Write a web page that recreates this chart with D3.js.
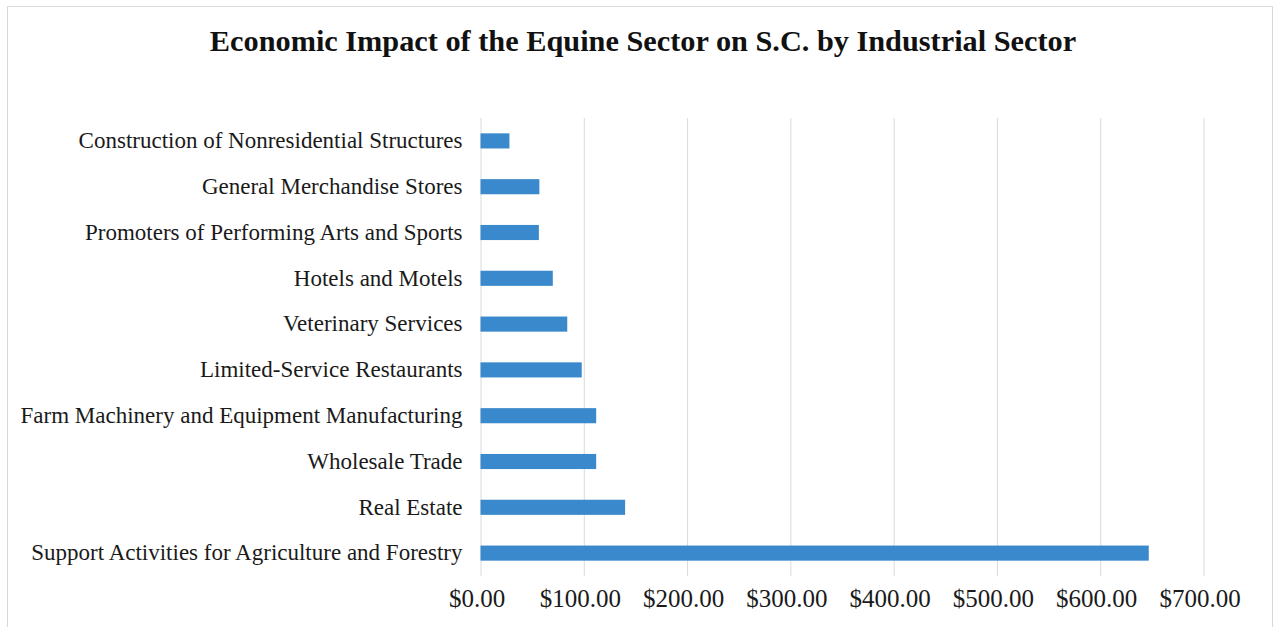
<!DOCTYPE html>
<html><head><meta charset="utf-8">
<script src="https://cdn.jsdelivr.net/npm/d3@7"></script>
<style>
html,body{margin:0;padding:0;background:#fff;}
svg{display:block;}
</style></head>
<body>
<svg id="chart" width="1277" height="627"></svg>
<script>
const title = "Economic Impact of the Equine Sector on S.C. by Industrial Sector";
const categories = [
  "Construction of Nonresidential Structures",
  "General Merchandise Stores",
  "Promoters of Performing Arts and Sports",
  "Hotels and Motels",
  "Veterinary Services",
  "Limited-Service Restaurants",
  "Farm Machinery and Equipment Manufacturing",
  "Wholesale Trade",
  "Real Estate",
  "Support Activities for Agriculture and Forestry"
];
const values = [28, 57, 56.5, 70, 84, 98, 112, 112, 140, 647];
const tickValues = [0, 100, 200, 300, 400, 500, 600, 700];

const svg = d3.select("#chart");
const m = {left: 480.5, right: 1203.5, top: 118, bottom: 576};
const serif = "Liberation Serif, Times New Roman, serif";

svg.append("rect").attr("x", 7.5).attr("y", 6.5).attr("width", 1265).attr("height", 640)
  .attr("fill", "#fff").attr("stroke", "#d9d9d9").attr("stroke-width", 1);

const x = d3.scaleLinear().domain([0, 700]).range([m.left, m.right]);
const y = d3.scaleBand().domain(categories).range([m.top, m.bottom]).paddingInner(0.67).paddingOuter(0.335);

svg.append("text").attr("x", 643).attr("y", 51).attr("text-anchor", "middle")
  .attr("font-family", serif).attr("font-weight", "bold")
  .attr("font-size", 30.3).attr("fill", "#111").text(title);

const grid = svg.append("g").attr("transform", `translate(0,${m.bottom})`)
  .call(d3.axisBottom(x).tickValues(tickValues).tickSize(-(m.bottom - m.top)).tickFormat(""));
grid.select(".domain").remove();
grid.selectAll("line").attr("stroke", "#dadada").attr("stroke-width", 1);

svg.append("g").selectAll("rect").data(categories).join("rect")
  .attr("x", x(0))
  .attr("y", d => y(d))
  .attr("width", (d, i) => x(values[i]) - x(0))
  .attr("height", y.bandwidth())
  .attr("fill", "#3a89cc");

const yAxis = svg.append("g").attr("transform", `translate(${m.left},0)`)
  .call(d3.axisLeft(y).tickSize(0).tickPadding(18));
yAxis.select(".domain").remove();
yAxis.selectAll("text").attr("font-family", serif)
  .attr("font-size", 23).attr("fill", "#1a1a1a");

const xAxis = svg.append("g").attr("transform", `translate(0,${m.bottom})`)
  .call(d3.axisBottom(x).tickValues(tickValues).tickSize(0).tickPadding(13)
    .tickFormat(d => "$" + d3.format(".2f")(d)));
xAxis.select(".domain").remove();
xAxis.selectAll("text").attr("font-family", serif).attr("dx", -4)
  .attr("font-size", 25).attr("fill", "#1a1a1a");
</script>
</body></html>
